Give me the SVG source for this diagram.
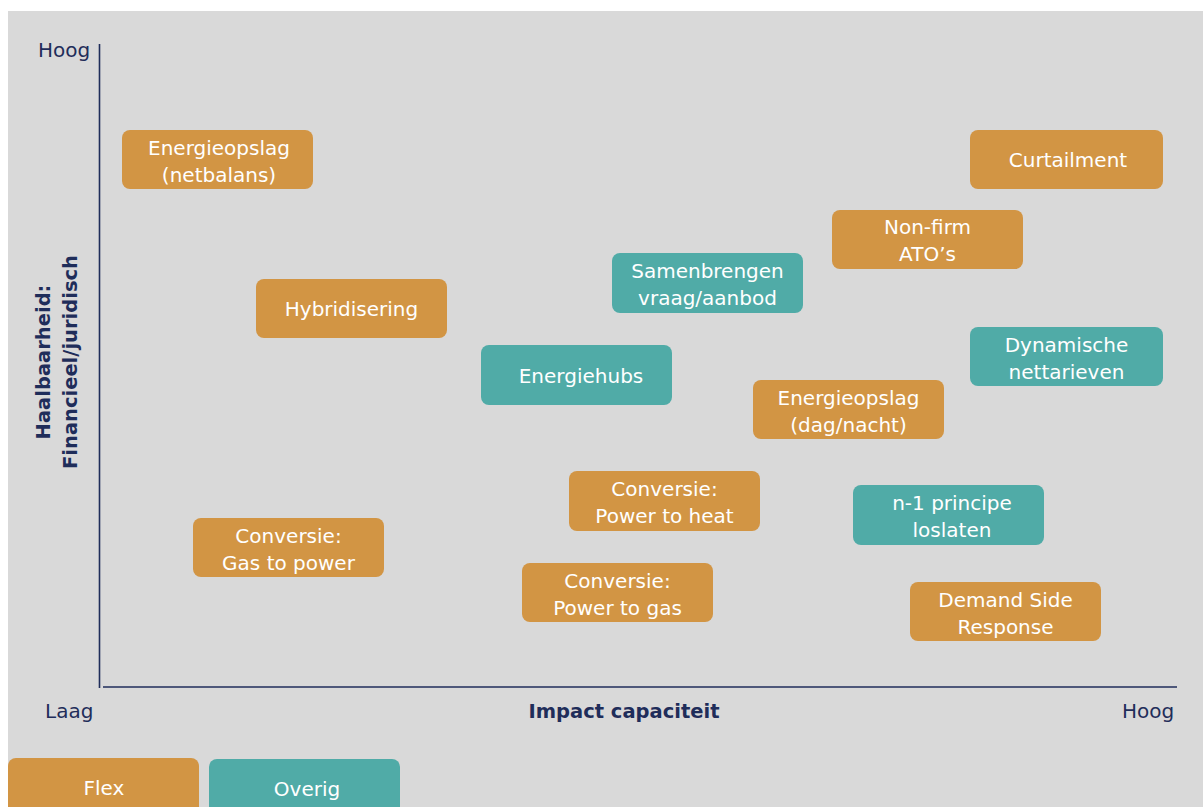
<svg xmlns="http://www.w3.org/2000/svg" width="1203" height="807" viewBox="0 0 1203 807">
<style>
.bg{fill:#D9D9D9}
.flex{fill:#D29544}
.ovr{fill:#50ABA7}
.t{font-family:"DejaVu Sans","Verdana",sans-serif;font-size:20px;fill:#FFFFFF;text-anchor:middle}
.ax{font-family:"DejaVu Sans","Verdana",sans-serif;font-size:20px;fill:#1F2D5A}
.axb{font-family:"DejaVu Sans","Verdana",sans-serif;font-size:19.5px;font-weight:bold;fill:#1F2D5A;text-anchor:middle}
.axis{stroke:#1F2D5A;stroke-width:1.6;fill:none}
</style>
<rect class="bg" x="8" y="11" width="1195" height="796"/>
<g id="connectors">
<line class="axis" x1="99.5" y1="44" x2="99.5" y2="688"/>
<line class="axis" x1="103" y1="687" x2="1177" y2="687"/>
</g>
<g id="axis-labels">
<text class="ax" x="38" y="57">Hoog</text>
<text class="ax" x="45" y="718">Laag</text>
<text class="ax" x="1122" y="718">Hoog</text>
<text class="axb" x="624" y="718">Impact capaciteit</text>
<text class="axb" transform="translate(50,362) rotate(-90)">Haalbaarheid:</text>
<text class="axb" transform="translate(77,362) rotate(-90)">Financieel/juridisch</text>
</g>
<g id="n-energieopslag-netbalans"><rect class="flex" x="122" y="130" width="191" height="59" rx="8"/><text class="t" x="219" y="155">Energieopslag</text><text class="t" x="219" y="182">(netbalans)</text></g>
<g id="n-curtailment"><rect class="flex" x="970" y="130" width="193" height="59" rx="8"/><text class="t" x="1068" y="167">Curtailment</text></g>
<g id="n-nonfirm"><rect class="flex" x="832" y="210" width="191" height="59" rx="8"/><text class="t" x="927.5" y="234">Non-firm</text><text class="t" x="927.5" y="261">ATO’s</text></g>
<g id="n-samenbrengen"><rect class="ovr" x="612" y="253" width="191" height="60" rx="8"/><text class="t" x="707.5" y="278">Samenbrengen</text><text class="t" x="707.5" y="305">vraag/aanbod</text></g>
<g id="n-hybridisering"><rect class="flex" x="256" y="279" width="191" height="59" rx="8"/><text class="t" x="351.5" y="316">Hybridisering</text></g>
<g id="n-energiehubs"><rect class="ovr" x="481" y="345" width="191" height="60" rx="8"/><text class="t" x="581" y="383">Energiehubs</text></g>
<g id="n-dynamische"><rect class="ovr" x="970" y="327" width="193" height="59" rx="8"/><text class="t" x="1066.5" y="352">Dynamische</text><text class="t" x="1066.5" y="379">nettarieven</text></g>
<g id="n-energieopslag-dagnacht"><rect class="flex" x="753" y="380" width="191" height="59" rx="8"/><text class="t" x="848.5" y="405">Energieopslag</text><text class="t" x="848.5" y="432">(dag/nacht)</text></g>
<g id="n-power-to-heat"><rect class="flex" x="569" y="471" width="191" height="60" rx="8"/><text class="t" x="664.5" y="496">Conversie:</text><text class="t" x="664.5" y="523">Power to heat</text></g>
<g id="n-n1"><rect class="ovr" x="853" y="485" width="191" height="60" rx="8"/><text class="t" x="952" y="510">n-1 principe</text><text class="t" x="952" y="537">loslaten</text></g>
<g id="n-gas-to-power"><rect class="flex" x="193" y="518" width="191" height="59" rx="8"/><text class="t" x="288.5" y="543">Conversie:</text><text class="t" x="288.5" y="570">Gas to power</text></g>
<g id="n-power-to-gas"><rect class="flex" x="522" y="563" width="191" height="59" rx="8"/><text class="t" x="617.5" y="588">Conversie:</text><text class="t" x="617.5" y="615">Power to gas</text></g>
<g id="n-dsr"><rect class="flex" x="910" y="582" width="191" height="59" rx="8"/><text class="t" x="1005.5" y="607">Demand Side</text><text class="t" x="1005.5" y="634">Response</text></g>
<g id="legend-flex"><rect class="flex" x="8" y="758" width="191" height="60" rx="8"/><text class="t" x="104" y="795">Flex</text></g>
<g id="legend-overig"><rect class="ovr" x="209" y="759" width="191" height="60" rx="8"/><text class="t" x="307" y="796">Overig</text></g>
</svg>
